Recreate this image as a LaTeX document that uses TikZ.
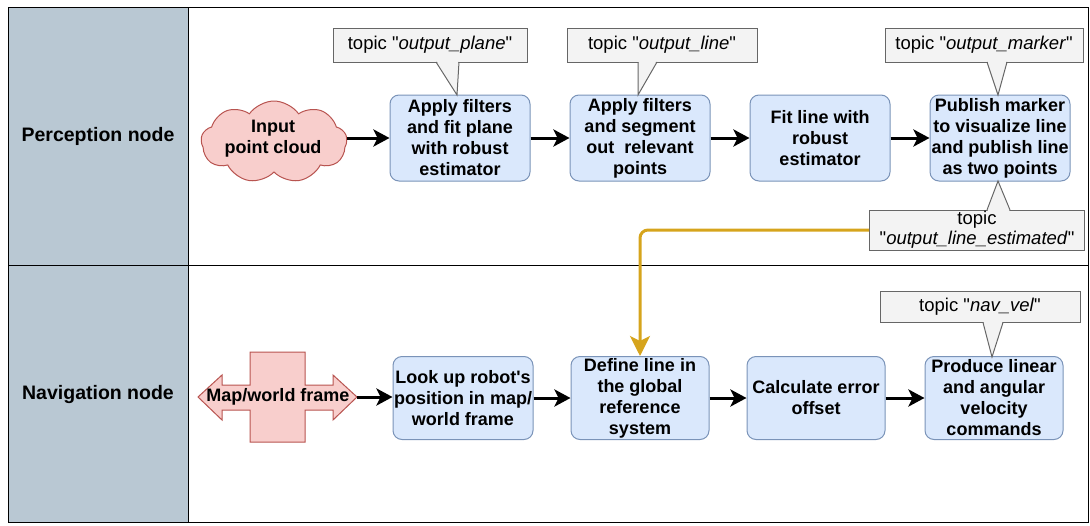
\documentclass[tikz,border=0pt]{standalone}
\usepackage{fontspec}
\setmainfont{Liberation Sans}
\newfontfamily\plainfont{Liberation Sans}
\usetikzlibrary{shapes.symbols,arrows.meta}
\definecolor{boxfill}{HTML}{DAE8FC}
\definecolor{boxline}{HTML}{7A93B8}
\definecolor{cloudfill}{HTML}{F8CECC}
\definecolor{cloudline}{HTML}{B85450}
\definecolor{callfill}{HTML}{F3F3F3}
\definecolor{callline}{HTML}{666666}
\definecolor{lanefill}{HTML}{B9C8D3}
\definecolor{goldline}{HTML}{D6A41C}
\begin{document}
\begin{tikzpicture}[x=1pt,y=-1pt,
 stepbox/.style={rectangle, rounded corners=9pt, fill=boxfill, draw=boxline, line width=1pt,
   minimum width=140pt, minimum height=86pt, align=center, inner sep=1pt,
   font=\plainfont\bfseries\fontsize{18}{21}\selectfont},
 callbox/.style={rectangle, fill=callfill, draw=callline, line width=1pt, align=center,
   inner sep=0pt, font=\plainfont\fontsize{18.5}{20}\selectfont},
 callptr/.style={draw=callline, line width=1pt, line join=miter},
 flow/.style={line width=3pt, -{Stealth[length=16pt,width=17pt,inset=4pt]}},
 lanelabel/.style={font=\plainfont\bfseries\fontsize{19.5}{22}\selectfont, align=center},
 pinkshape/.style={fill=cloudfill, draw=cloudline, line width=1pt},
]
\useasboundingbox (0,0) rectangle (1090,525);

% swimlanes
\draw[line width=1pt, fill=lanefill] (8,7) rectangle (188,522);
\draw[line width=1pt] (8,7) rectangle (1088,522);
\draw[line width=1pt] (8,265) -- (1088,265);
\node[lanelabel] (lp) at (98,136) {Perception node};
\node[lanelabel] (ln) at (98,394) {Navigation node};

% perception row
\node[cloud, cloud puffs=9, cloud puff arc=110, aspect=1.8, pinkshape,
      minimum width=146pt, minimum height=82pt, inner sep=0pt] (cl) at (274,142) {};
\node[font=\plainfont\bfseries\fontsize{18}{21}\selectfont, align=center] (cltext) at (273,139) {Input\\point cloud};

\node[stepbox] (b1) at (460,138) {Apply filters\\and fit plane\\with robust\\estimator};
\node[stepbox] (b2) at (640,138) {Apply filters\\and segment\\out\ \ relevant\\points};
\node[stepbox] (b3) at (820,138) {Fit line with\\robust\\estimator};
\node[stepbox] (b4) at (1000,138) {Publish marker\\to visualize line\\and publish line\\as two points};

% navigation row
\draw[pinkshape] (198,397) -- (222,375) -- (222,385) -- (250,385) -- (250,352) -- (305,352)
  -- (305,385) -- (333,385) -- (333,375) -- (357,397) -- (333,420) -- (333,410) -- (305,410)
  -- (305,442) -- (250,442) -- (250,410) -- (222,410) -- (222,420) -- cycle;
\node[font=\plainfont\bfseries\fontsize{18}{21}\selectfont] (map) at (278,397) {Map/world frame};
\coordinate (maptip) at (357,397);

\node[stepbox, minimum height=83pt] (b5) at (463,398) {Look up robot's\\position in map/\\world frame};
\node[stepbox, minimum width=138pt, minimum height=83pt] (b6) at (640,398) {Define line in\\the global\\reference\\system};
\node[stepbox, minimum width=138pt, minimum height=83pt] (b7) at (816,398) {Calculate error\\offset};
\node[stepbox, minimum width=138pt, minimum height=83pt] (b8) at (994,398) {Produce linear\\and angular\\velocity\\commands};

% callouts
\node[callbox, minimum width=194pt, minimum height=34pt] (c1) at (430,45) {topic "\textit{output\_plane}"};
\node[callbox, minimum width=190pt, minimum height=34pt] (c2) at (662,45) {topic "\textit{output\_line}"};
\node[callbox, minimum width=198pt, minimum height=34pt] (c3) at (984,45) {topic "\textit{output\_marker}"};
\node[callbox, minimum width=215pt, minimum height=40pt] (c4) at (977,230) {topic\\"\textit{output\_line\_estimated}"};
\node[callbox, minimum width=200pt, minimum height=31pt] (c5) at (980,307) {topic "\textit{nav\_vel}"};

% callout pointers
\fill[callfill] (436.5,61) -- (458.5,61) -- (457,94) -- cycle;
\draw[callptr] (436,62) -- (457,95) -- (459,62);
\fill[callfill] (638.5,61) -- (656.5,61) -- (638,94) -- cycle;
\draw[callptr] (638,62) -- (638,95) -- (657,62);
\fill[callfill] (987.5,61) -- (1006.5,61) -- (998,94) -- cycle;
\draw[callptr] (987,62) -- (998,95) -- (1007,62);
\fill[callfill] (987.5,211) -- (1009.5,211) -- (998,182) -- cycle;
\draw[callptr] (987,210) -- (998,181) -- (1010,210);
\fill[callfill] (983.5,322) -- (1002.5,322) -- (992,356) -- cycle;
\draw[callptr] (983,322.5) -- (992,357) -- (1003,322.5);

% flow arrows
\draw[flow] (cl.east |- b1.west) -- (b1.west);
\draw[flow] (b1) -- (b2);
\draw[flow] (b2) -- (b3);
\draw[flow] (b3) -- (b4);
\draw[flow] (maptip) -- (maptip -| b5.west);
\draw[flow] (b5) -- (b6);
\draw[flow] (b6) -- (b7);
\draw[flow] (b7) -- (b8);

% topic link
\draw[line width=3pt, goldline, rounded corners=8pt,
      -{Stealth[length=20pt,width=20pt,inset=5pt]}] (c4.west) -| (b6.north);
\end{tikzpicture}
\end{document}
